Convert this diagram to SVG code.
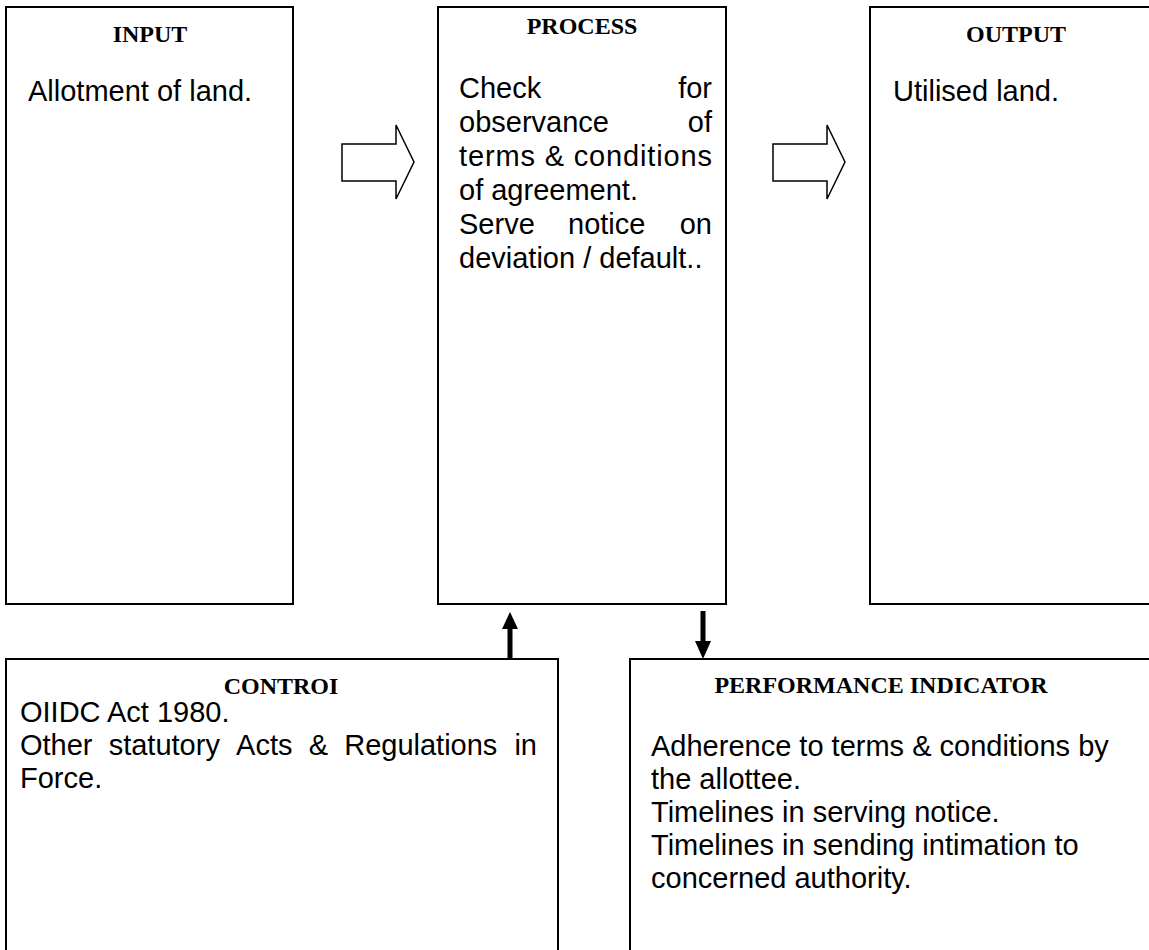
<svg xmlns="http://www.w3.org/2000/svg" width="1149" height="950" viewBox="0 0 1149 950">
<style>
.box{fill:#fff;stroke:#000;stroke-width:2}
.hd{font-family:"Liberation Serif","Times New Roman",serif;font-weight:bold;font-size:24px;fill:#000;text-anchor:middle}
.tx{font-family:"Liberation Sans",Arial,sans-serif;font-size:29px;fill:#000}
.blk{fill:#fff;stroke:#000;stroke-width:1.5;stroke-linejoin:miter}
.end{text-anchor:end}
</style>
<rect width="1149" height="950" fill="#fff"/>
<g id="input">
<rect class="box" x="6" y="7" width="287" height="597"/>
<text class="hd" x="150" y="42">INPUT</text>
<text class="tx" x="28" y="101">Allotment of land.</text>
</g>
<g id="process">
<rect class="box" x="438" y="7" width="288" height="597"/>
<text class="hd" x="582" y="34">PROCESS</text>
<text class="tx" x="459" y="98">Check</text><text class="tx end" x="712" y="98">for</text>
<text class="tx" x="459" y="132">observance</text><text class="tx end" x="712" y="132">of</text>
<text class="tx" x="459" y="166" textLength="253" lengthAdjust="spacing">terms &amp; conditions</text>
<text class="tx" x="459" y="200">of agreement.</text>
<text class="tx" x="459" y="234">Serve</text><text class="tx" x="568" y="234">notice</text><text class="tx end" x="712" y="234">on</text>
<text class="tx" x="459" y="268">deviation / default..</text>
</g>
<g id="output">
<rect class="box" x="870" y="7" width="300" height="597"/>
<text class="hd" x="1016" y="42">OUTPUT</text>
<text class="tx" x="893" y="101">Utilised land.</text>
</g>
<g id="control">
<rect class="box" x="6" y="659" width="552" height="320"/>
<text class="hd" x="281" y="694">CONTROI</text>
<text class="tx" x="20" y="722">OIIDC Act 1980.</text>
<text class="tx" x="20" y="755">Other</text><text class="tx" x="108.7" y="755">statutory</text><text class="tx" x="236.1" y="755">Acts</text><text class="tx" x="308.7" y="755">&amp;</text><text class="tx" x="344.2" y="755">Regulations</text><text class="tx end" x="537" y="755">in</text>
<text class="tx" x="20" y="788">Force.</text>
</g>
<g id="performance-indicator">
<rect class="box" x="630" y="659" width="540" height="320"/>
<text class="hd" x="881" y="693">PERFORMANCE INDICATOR</text>
<text class="tx" x="651" y="756">Adherence to terms &amp; conditions by</text>
<text class="tx" x="651" y="789">the allottee.</text>
<text class="tx" x="651" y="822">Timelines in serving notice.</text>
<text class="tx" x="651" y="855">Timelines in sending intimation to</text>
<text class="tx" x="651" y="888">concerned authority.</text>
</g>
<g id="connectors">
<path class="blk" d="M342,144 H396 V125 L414,162 L396,199 V181 H342 Z"/>
<path class="blk" d="M773,144 H827 V125 L845,162 L827,199 V181 H773 Z"/>
<rect x="507.5" y="627" width="5" height="32" fill="#000"/>
<polygon points="510,612 502,629 518,629" fill="#000"/>
<rect x="700.5" y="611" width="5" height="32" fill="#000"/>
<polygon points="703,659 695,641 711,641" fill="#000"/>
</g>
</svg>
